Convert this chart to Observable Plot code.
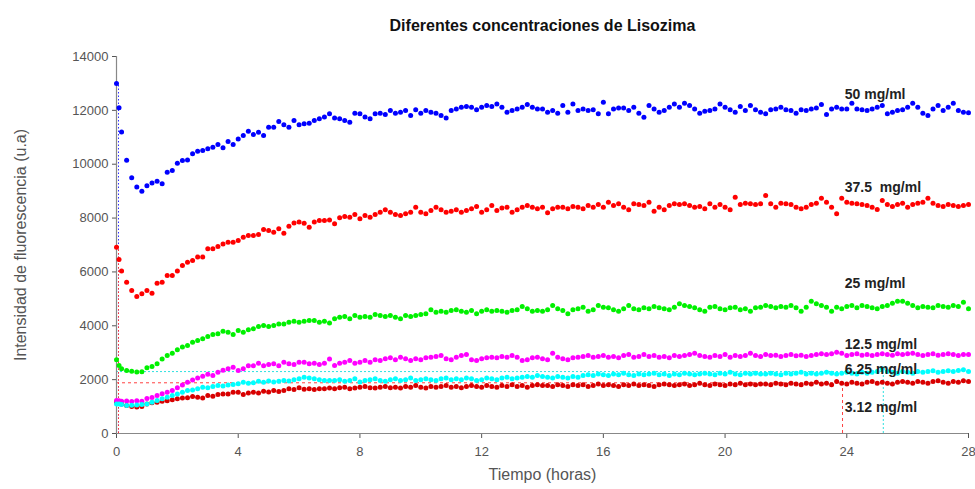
<!DOCTYPE html>
<html>
<head>
<meta charset="utf-8">
<script src="https://cdn.jsdelivr.net/npm/d3@7"></script>
<script src="https://cdn.jsdelivr.net/npm/@observablehq/plot@0.6"></script>
<style>
  html, body { margin: 0; padding: 0; background: #fff; }
  #chart { width: 975px; height: 489px; }
</style>
</head>
<body>
<div id="chart"></div>
<script>
// ---- Data ----
const chartTitle = "Diferentes concentraciones de Lisozima";
const xTitle = "Tiempo (horas)";
const yTitle = "Intensidad de fluorescencia (u.a)";
const xTicks = [0, 4, 8, 12, 16, 20, 24, 28];
const yTicks = [0, 2000, 4000, 6000, 8000, 10000, 12000, 14000];

// sampling times (minutes): first reading, one after 5 min, then every 10 min up to 28 h
const sampleMinutes = [0, 5, ...d3.range(10, 1681, 10)];

const seriesNames = ["50 mg/ml", "37.5  mg/ml", "25 mg/ml", "12.5 mg/ml", "6.25 mg/ml", "3.12 mg/ml"];

const conc50 = [
  13000, 12100,
  11200, 10150, 9500, 9150, 9000, 9200,
  9300, 9370, 9270, 9700, 9770, 10040,
  10140, 10160, 10390, 10480, 10510, 10570,
  10630, 10730, 10610, 10840, 10730, 10940,
  11070, 11220, 11100, 11190, 11070, 11370,
  11370, 11590, 11470, 11370, 11620, 11470,
  11500, 11520, 11620, 11690, 11750, 11870,
  11720, 11685, 11620, 11560, 11895, 11870,
  11750, 11685, 11870, 11895, 11850, 11994,
  11895, 11930, 11994, 11808, 12020, 11895,
  11994, 11930, 11895, 11808, 11720, 11994,
  12055, 12117, 12140, 12117, 12020, 12117,
  12180, 12140, 12240, 12117, 11930, 11994,
  12055, 12117, 12220, 12117, 12055, 12055,
  11932, 11994, 11895, 12180, 11932, 12240,
  11994, 12055, 11994, 12020, 11870, 12300,
  11870, 12055, 12090, 12090, 11994, 12117,
  11895, 11746, 12180, 12055, 11932, 11994,
  12117, 12240, 12117, 12265, 12180, 12055,
  11895, 11970, 11994, 12055, 12240, 12117,
  12020, 11932, 12140, 11994, 12180, 12020,
  11932, 11870, 12020, 12055, 12117, 12020,
  11994, 11895, 12020, 11994, 12055, 12090,
  12220, 11846, 12055, 12117, 12055, 12055,
  12265, 12055, 12020, 11994, 12055, 12117,
  12180, 11870, 11932, 11994, 12020, 12117,
  12265, 12117, 11895, 11808, 12055, 12180,
  11994, 12117, 12265, 11994, 11932, 11910
];

const conc37_5 = [
  6920, 6460,
  6030, 5620, 5310, 5090, 5190, 5310,
  5210, 5580, 5620, 5870, 5870, 6030,
  6240, 6360, 6420, 6550, 6550, 6860,
  6860, 6940, 7040, 7100, 7100, 7170,
  7290, 7350, 7350, 7390, 7575, 7540,
  7475, 7600, 7440, 7700, 7820, 7850,
  7810, 7660, 7850, 7910, 7910, 7930,
  7785, 8009, 8058, 8034, 8133, 7972,
  8095, 8034, 8133, 8219, 8305, 8219,
  8133, 8095, 8157, 8219, 8404, 8219,
  8157, 8281, 8404, 8305, 8219, 8256,
  8305, 8219, 8281, 8342, 8430, 8219,
  8305, 8466, 8281, 8370, 8404, 8219,
  8305, 8404, 8466, 8404, 8342, 8404,
  8195, 8342, 8404, 8404, 8342, 8429,
  8404, 8342, 8466, 8404, 8504, 8404,
  8590, 8466, 8528, 8404, 8305, 8528,
  8504, 8466, 8590, 8256, 8404, 8305,
  8466, 8528, 8504, 8528, 8466, 8404,
  8429, 8342, 8528, 8404, 8504, 8404,
  8305, 8775, 8504, 8553, 8528, 8504,
  8528, 8838, 8528, 8404, 8553, 8528,
  8504, 8404, 8342, 8404, 8504, 8553,
  8738, 8590, 8404, 8157, 8738, 8590,
  8553, 8528, 8504, 8466, 8404, 8318,
  8652, 8504, 8429, 8504, 8553, 8404,
  8504, 8553, 8590, 8738, 8553, 8466,
  8429, 8504, 8466, 8429, 8466, 8504
];

const conc25 = [
  2740, 2525,
  2400, 2340, 2310, 2280, 2290, 2440,
  2490, 2590, 2770, 2900, 2980, 3110,
  3210, 3270, 3390, 3450, 3520, 3600,
  3680, 3700, 3800, 3760, 3680, 3825,
  3760, 3850, 3890, 3970, 4010, 3970,
  4010, 4070, 4070, 4130, 4170, 4130,
  4170, 4200, 4200, 4130, 4170, 4100,
  4257, 4319, 4345, 4257, 4382, 4319,
  4345, 4319, 4419, 4382, 4345, 4382,
  4319, 4257, 4382, 4345, 4382, 4419,
  4444, 4593, 4505, 4542, 4505, 4567,
  4593, 4542, 4505, 4567, 4444, 4542,
  4593, 4542, 4567, 4542, 4505, 4567,
  4593, 4716, 4630, 4542, 4567, 4542,
  4593, 4753, 4630, 4567, 4444, 4593,
  4630, 4691, 4542, 4593, 4753, 4691,
  4667, 4593, 4542, 4630, 4753, 4630,
  4593, 4667, 4630, 4716, 4667, 4630,
  4593, 4691, 4816, 4753, 4716, 4667,
  4593, 4542, 4691, 4716, 4630, 4593,
  4667, 4691, 4593, 4630, 4542, 4667,
  4691, 4753, 4716, 4667, 4716, 4691,
  4753, 4667, 4542, 4691, 4913, 4816,
  4753, 4691, 4542, 4691, 4630, 4716,
  4753, 4667, 4753, 4716, 4667, 4630,
  4716, 4753, 4839, 4913, 4913, 4839,
  4753, 4667, 4716, 4691, 4667, 4753,
  4716, 4691, 4753, 4716, 4876, 4630
];

const conc12_5 = [
  1225, 1215,
  1200, 1210, 1190, 1215, 1200, 1300,
  1340, 1410, 1480, 1530, 1600, 1700,
  1800, 1900, 1990, 2060, 2130, 2200,
  2150, 2270, 2350, 2400, 2460, 2340,
  2400, 2520, 2520, 2610, 2520, 2560,
  2590, 2520, 2650, 2590, 2560, 2650,
  2650, 2590, 2610, 2560, 2610, 2770,
  2525, 2611, 2648, 2711, 2611, 2648,
  2711, 2648, 2736, 2711, 2773, 2810,
  2736, 2834, 2773, 2711, 2773, 2736,
  2810, 2834, 2859, 2896, 2773, 2736,
  2834, 2896, 2933, 2736, 2711, 2773,
  2810, 2834, 2810, 2859, 2834, 2896,
  2834, 2711, 2736, 2810, 2834, 2773,
  2736, 2982, 2834, 2773, 2736, 2810,
  2834, 2859, 2896, 2834, 2859, 2896,
  2834, 2859, 2810, 2896, 2933, 2834,
  2859, 2933, 2859, 2896, 2834, 2859,
  2810, 2896, 2859, 2896, 2933, 2982,
  2896, 2859, 2834, 2896, 2859, 2933,
  2834, 2896, 2859, 2896, 2982, 2896,
  2859, 2933, 2896, 2908, 2859, 2896,
  2933, 2884, 2908, 2859, 2896, 2933,
  2958, 2933, 2958, 3020, 2982, 2896,
  2933, 2958, 2908, 2933, 2896, 2933,
  2958, 2933, 2908, 2958, 2933, 2958,
  2982, 2933, 2896, 2933, 2958, 2908,
  2933, 2958, 2933, 2896, 2933, 2933
];

const conc6_25 = [
  1100, 1100,
  1080, 1040, 1050, 1060, 1080, 1100,
  1160, 1230, 1290, 1350, 1410, 1470,
  1530, 1600, 1620, 1660, 1720, 1700,
  1750, 1780, 1760, 1800, 1820, 1850,
  1900, 1870, 1880, 1940, 1900, 1950,
  1910, 1940, 1970, 1950, 2000, 2030,
  2090, 2060, 2030, 2000, 1970, 1970,
  1970, 2000, 1940, 1970, 2030, 1910,
  1970, 2000, 2030, 1970, 1940, 2000,
  2030, 1970, 2000, 2060, 1970, 2000,
  2030, 2000, 1970, 2030, 2060, 2000,
  2030, 2000, 2060, 2030, 1970, 2000,
  2060, 2030, 2000, 2060, 2090, 2030,
  2060, 2090, 2120, 2090, 2150, 2120,
  2090, 2060, 2120, 2090, 2060, 2120,
  2090, 2150, 2180, 2150, 2210, 2180,
  2150, 2210, 2180, 2240, 2180, 2150,
  2210, 2180, 2210, 2240, 2180, 2210,
  2150, 2210, 2180, 2240, 2210, 2180,
  2210, 2240, 2210, 2180, 2240, 2210,
  2270, 2210, 2180, 2240, 2210, 2240,
  2210, 2210, 2240, 2210, 2180, 2240,
  2210, 2240, 2270, 2210, 2240, 2210,
  2240, 2270, 2240, 2210, 2240, 2270,
  2240, 2210, 2270, 2240, 2270, 2300,
  2400, 2300, 2270, 2240, 2300, 2270,
  2240, 2300, 2270, 2300, 2330, 2270,
  2300, 2330, 2300, 2340, 2370, 2300
];

const conc3_12 = [
  1160, 1140,
  1100, 1040, 1000, 980, 1000, 1100,
  1140, 1160, 1200, 1220, 1250, 1290,
  1320, 1330, 1370, 1350, 1320, 1410,
  1380, 1450, 1470, 1470, 1530, 1530,
  1450, 1500, 1530, 1500, 1570, 1540,
  1600, 1560, 1600, 1660, 1630, 1700,
  1640, 1660, 1630, 1660, 1660, 1690,
  1660, 1700, 1720, 1660, 1690, 1720,
  1750, 1700, 1690, 1720, 1750, 1700,
  1720, 1690, 1750, 1720, 1780, 1720,
  1690, 1750, 1720, 1750, 1780, 1720,
  1750, 1700, 1750, 1780, 1750, 1720,
  1780, 1750, 1720, 1780, 1750, 1810,
  1750, 1780, 1720, 1780, 1810, 1780,
  1780, 1750, 1810, 1780, 1750, 1810,
  1780, 1810, 1750, 1780, 1840, 1780,
  1810, 1780, 1750, 1810, 1780, 1840,
  1780, 1810, 1780, 1750, 1810, 1840,
  1810, 1780, 1810, 1840, 1780, 1810,
  1870, 1810, 1780, 1840, 1810, 1780,
  1840, 1810, 1870, 1810, 1840, 1810,
  1840, 1840, 1810, 1870, 1840, 1810,
  1870, 1840, 1810, 1870, 1840, 1900,
  1840, 1870, 1810, 1930, 1870, 1840,
  1900, 1870, 1840, 1900, 1930, 1870,
  1900, 1870, 1840, 1900, 1930, 1900,
  1870, 1930, 1900, 1870, 1930, 1960,
  1900, 1870, 1930, 1900, 1960, 1930
];

// reference markers (dashed guides): level reached and the hour it is reached
const markerLevels = [1883, 2300];   // 3.12 mg/ml (red), 6.25 mg/ml (cyan)
const markerHours = [23.86, 25.2];

// ---- Styles ----
const seriesColors = ["#0000ff", "#ff0000", "#00f000", "#ff00ff", "#00ffff", "#d80000"];
const labelDy = [-20, -22, -28, -15, -8, 20];
const drawOrder = [0, 1, 2, 5, 3, 4];
const FONT = "'Liberation Sans', Arial, Helvetica, sans-serif";

const hours = sampleMinutes.map(m => m / 60);
const allSeries = [conc50, conc37_5, conc25, conc12_5, conc6_25, conc3_12];
allSeries.forEach((s, k) => { if (s.length !== hours.length) console.error("length mismatch", k, s.length, hours.length); });

const dotMarks = drawOrder.map(k => Plot.dot(
  allSeries[k].map((v, i) => ({t: hours[i], v})),
  {x: "t", y: "v", r: 2.5, fill: seriesColors[k], stroke: "none"}
));

const labelRows = seriesNames.map((name, k) => ({
  name, k,
  t: hours[145],
  v: d3.mean(allSeries[k].slice(130))
}));

const plot = Plot.plot({
  width: 975,
  height: 489,
  marginLeft: 116,
  marginRight: 7,
  marginTop: 56,
  marginBottom: 56,
  style: {fontFamily: FONT, fontSize: "13px", color: "#555", background: "#fff", overflow: "visible"},
  x: {domain: [0, 28], ticks: xTicks, tickSize: 5, tickPadding: 8, label: null, tickFormat: d => String(d)},
  y: {domain: [0, 14000], ticks: yTicks, tickSize: 4, tickPadding: 4, label: null, tickFormat: d => String(d)},
  marks: [
    // guide lines
    Plot.ruleX([0], {y1: 0, y2: conc50[0], stroke: "#3030ff", strokeDasharray: "1.5,2", strokeWidth: 1, dx: 2}),
    Plot.ruleX([0], {y1: 0, y2: conc37_5[0], stroke: "#ff3030", strokeDasharray: "1.5,2", strokeWidth: 1, dx: 2}),
    Plot.ruleY([markerLevels[0]], {x1: 0, x2: markerHours[0], stroke: "#ff4040", strokeDasharray: "3,3", strokeWidth: 1}),
    Plot.ruleY([markerLevels[1]], {x1: 0, x2: markerHours[1], stroke: "#30e0e0", strokeDasharray: "2,2", strokeWidth: 1}),
    Plot.ruleX([markerHours[0]], {y1: 0, y2: markerLevels[0], stroke: "#ff4040", strokeDasharray: "3,3", strokeWidth: 1}),
    Plot.ruleX([markerHours[1]], {y1: 0, y2: markerLevels[1], stroke: "#30e0e0", strokeDasharray: "2,2", strokeWidth: 1}),
    // axis lines
    Plot.ruleX([0], {stroke: "#888", strokeWidth: 1.2}),
    Plot.ruleY([0], {stroke: "#888", strokeWidth: 1.2}),
    ...dotMarks,
    // series labels
    Plot.text(labelRows, {x: "t", y: "v", text: "name", textAnchor: "start", dx: -2,
      fontWeight: "bold", fontSize: 14, fill: "#222"}),
    // titles
    Plot.text([chartTitle], {frameAnchor: "top", textAnchor: "middle", dy: -37, fontWeight: "bold", fontSize: 16, fill: "#111"}),
    Plot.text([xTitle], {frameAnchor: "bottom", textAnchor: "middle", dy: 46, fontSize: 16, fill: "#555"}),
    Plot.text([yTitle], {frameAnchor: "left", textAnchor: "middle", rotate: -90, dx: -96, fontSize: 16, fill: "#555"})
  ]
});

// apply per-label vertical offsets (style only)
const labelTexts = plot.querySelectorAll("g[aria-label='text']")[0];
if (labelTexts) {
  labelTexts.querySelectorAll("text").forEach((el, i) => {
    el.setAttribute("dy", String(labelDy[i] + 5));
  });
}
document.getElementById("chart").appendChild(plot);
</script>
</body>
</html>
